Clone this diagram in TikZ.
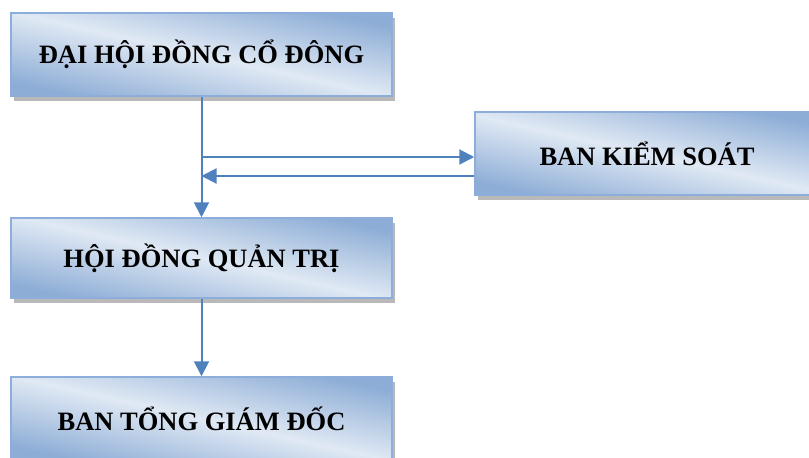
\documentclass[tikz,border=0pt]{standalone}
\usepackage{fontspec}
\setmainfont{Liberation Serif}
\usepackage{xcolor}
\usetikzlibrary{arrows.meta,shadows}

\definecolor{boxdark}{RGB}{141,173,214}
\definecolor{boxlight}{RGB}{224,233,244}
\definecolor{boxedge}{RGB}{141,174,218}
\definecolor{linkblue}{RGB}{79,129,189}

\begin{document}
\begin{tikzpicture}[x=1pt,y=-1pt,
    unit/.style={draw=boxedge,line width=1.5pt,
      top color=boxdark,bottom color=boxdark,middle color=boxlight,shading angle=-12.6,
      drop shadow={shadow xshift=3pt,shadow yshift=-5pt,fill=gray!55,opacity=1},
      minimum height=83pt,inner sep=0pt,
      font=\fontsize{26.5}{30}\selectfont\bfseries},
    link/.style={draw=linkblue,line width=2pt,-{Triangle[length=15pt,width=15pt]}}]
  \useasboundingbox (0,0) rectangle (809,458);
  \clip (0,0) rectangle (809,458);

  % boxes
  \node[unit,minimum width=381pt] (dhcd) at (201.5,54.5) {ĐẠI HỘI ĐỒNG CỔ ĐÔNG};
  \node[unit,minimum width=344pt] (bks) at (647,153.5) {BAN KIỂM SOÁT};
  \node[unit,minimum width=381pt,minimum height=80pt] (hdqt) at (201.5,258) {HỘI ĐỒNG QUẢN TRỊ};
  \node[unit,minimum width=381pt] (btgd) at (201.5,418.5) {BAN TỔNG GIÁM ĐỐC};

  % links
  \coordinate (inA) at ([yshift=-3.5pt]bks.west);
  \coordinate (inB) at ([yshift=-22.5pt]bks.west);
  \draw[link] (dhcd.south) -- (hdqt.north);
  \draw[link] (dhcd.south |- inA) -- (inA);
  \draw[link] (inB) -- (dhcd.south |- inB);
  \draw[link] (hdqt.south) -- (btgd.north);
\end{tikzpicture}
\end{document}
